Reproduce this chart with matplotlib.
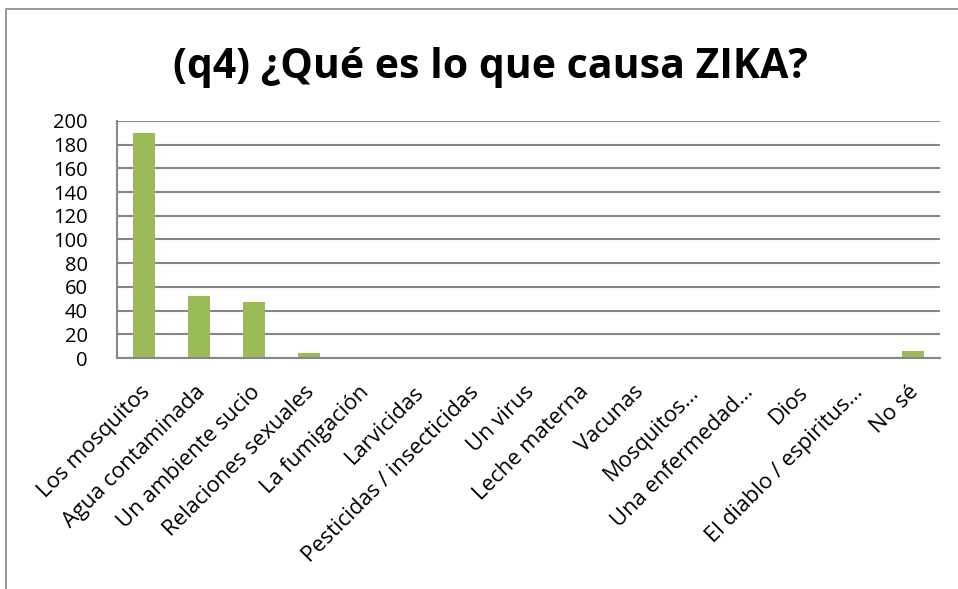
import matplotlib.pyplot as plt
from matplotlib.patches import Rectangle
from matplotlib.transforms import ScaledTranslation

categories = ['Los mosquitos', 'Agua contaminada', 'Un ambiente sucio',
              'Relaciones sexuales', 'La fumigación', 'Larvicidas',
              'Pesticidas / insecticidas', 'Un virus', 'Leche materna',
              'Vacunas', 'Mosquitos…', 'Una enfermedad…', 'Dios',
              'El diablo / espiritus…', 'No sé']
counts = [190, 52, 47, 4, 0, 0, 0, 1, 1, 0, 0, 0, 1, 0, 6]
yticks = list(range(0, 201, 20))

fig = plt.figure(figsize=(9.58, 5.89), dpi=100)
ax = fig.add_axes([117 / 958, 1 - 358 / 589, (940 - 117) / 958, (358 - 121) / 589])

# outer chart frame
fig.patches.append(Rectangle((6 / 958, -0.1), 1.2, 1 - 9 / 589 + 0.1,
                             transform=fig.transFigure, fill=False,
                             edgecolor='#878787', linewidth=1.2))

x = list(range(len(categories)))
ax.bar(x, counts, width=0.4, color='#9BBB59', zorder=3)

ax.set_xlim(-0.5, len(categories) - 0.5)
ax.set_ylim(0, 200)
ax.set_yticks(yticks)
ax.set_yticklabels([str(v) for v in yticks], fontsize=14.5, family='Open Sans')
ax.tick_params(axis='y', length=0, pad=21)
ax.tick_params(axis='x', length=0, pad=17)
ax.set_xticks(x)
ax.set_xticklabels(categories, rotation=45, ha='right', va='top',
                   rotation_mode='anchor', fontsize=15.8, family='Open Sans')
shift = ScaledTranslation(-5 / 100, 0, fig.dpi_scale_trans)
for lbl in ax.get_xticklabels():
    lbl.set_transform(lbl.get_transform() + shift)

ax.grid(axis='y', color='#878787', linewidth=1.5, zorder=0)
for side in ['top', 'right']:
    ax.spines[side].set_visible(False)
for side in ['left', 'bottom']:
    ax.spines[side].set_color('#878787')
    ax.spines[side].set_linewidth(1.5)
    ax.spines[side].set_zorder(4)

fig.text(490 / 958, 1 - 68 / 589, '(q4) ¿Qué es lo que causa ZIKA?',
         ha='center', va='center', fontsize=29.5, fontweight='bold',
         family='Open Sans')

fig.savefig('out.png', dpi=100)
